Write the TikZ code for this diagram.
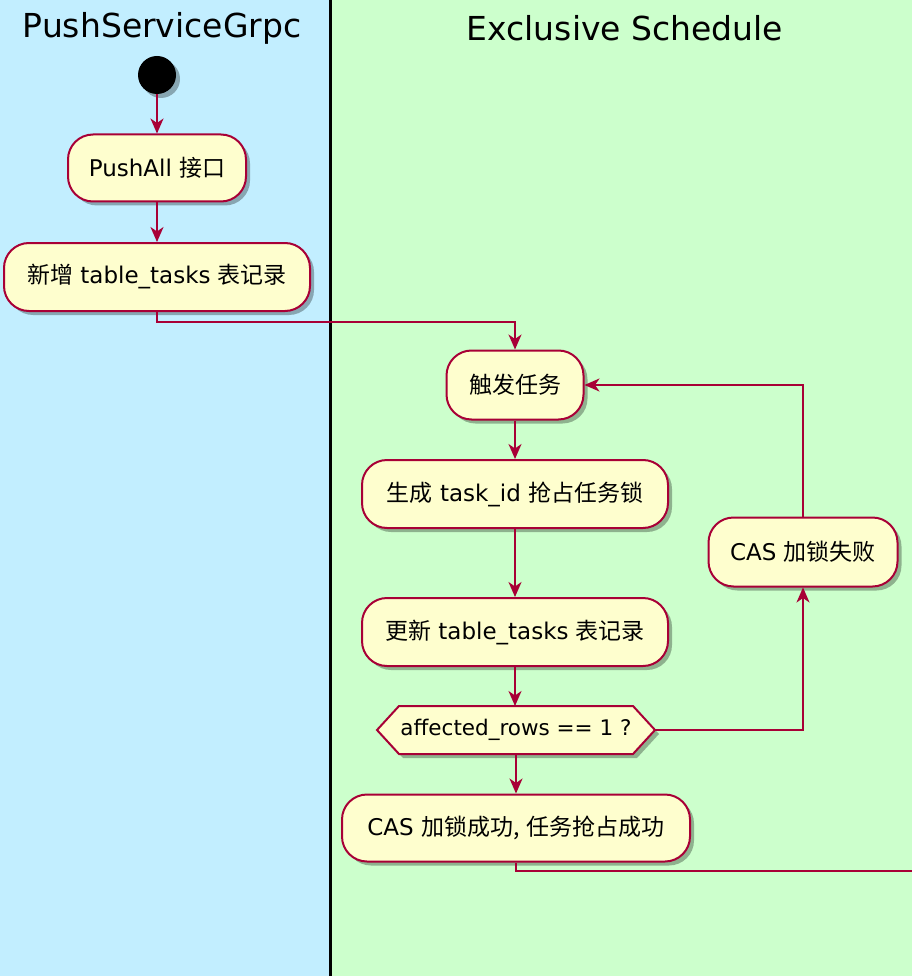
\documentclass[tikz,border=0pt]{standalone}
\usepackage{fontspec}
\setmainfont{DejaVu Sans}
\newfontfamily\cjk{Noto Sans CJK SC}
\usetikzlibrary{arrows.meta,shadows}
\definecolor{laneblue}{HTML}{C2EEFF}
\definecolor{lanegreen}{HTML}{CCFFCC}
\definecolor{umlred}{HTML}{A80036}
\definecolor{umlfill}{HTML}{FEFECE}
\pgfdeclarelayer{bg}
\pgfdeclarelayer{mid}
\pgfsetlayers{bg,mid,main}
\newcommand{\zh}[1]{{\cjk #1}}
\begin{document}
\begin{tikzpicture}[x=1pt,y=-1pt,
  myshadow/.style={drop shadow={shadow xshift=4pt,shadow yshift=-4pt,opacity=0.3,fill=black}},
  actbox/.style={rectangle,rounded corners=25pt,draw=umlred,fill=umlfill,line width=2pt,
    inner sep=0pt,font=\fontsize{23}{26}\selectfont,myshadow},
  hexbox/.style={draw=umlred,fill=umlfill,line width=2pt,myshadow},
  flow/.style={draw=umlred,line width=2pt,-{Stealth[length=15pt,width=13pt,inset=4.5pt]}},
  plainflow/.style={draw=umlred,line width=2pt},
  header/.style={font=\fontsize{33}{38}\selectfont,inner sep=0pt}]
\useasboundingbox (0,0) rectangle (912,976);
\begin{pgfonlayer}{bg}
  \fill[laneblue] (0,0) rectangle (330,976);
  \fill[lanegreen] (330,0) rectangle (912,976);
  \draw[line width=3pt,black] (330,0) -- (330,976);
\end{pgfonlayer}
\node[header] (h1) at (162,28) {PushServiceGrpc};
\node[header] (h2) at (625,28) {Exclusive Schedule};

\node[circle,fill=black,minimum size=38pt,inner sep=0pt,myshadow] (start) at (157,75) {};
\node[actbox,minimum width=178pt,minimum height=67pt] (push) at (157,168) {PushAll \zh{接口}};
\node[actbox,minimum width=306pt,minimum height=68pt] (add) at (157,277) {\zh{新增} table\_tasks \zh{表记录}};
\node[actbox,minimum width=137pt,minimum height=69pt] (trig) at (515,385) {\zh{触发任务}};
\node[actbox,minimum width=306pt,minimum height=68pt] (gen) at (515,494) {\zh{生成} task\_id \zh{抢占任务锁}};
\node[actbox,minimum width=306pt,minimum height=68pt] (upd) at (515,632) {\zh{更新} table\_tasks \zh{表记录}};
\node[inner sep=0pt,outer sep=0pt,minimum width=278pt,minimum height=48pt,
  font=\fontsize{21.5}{24}\selectfont] (dec) at (516,730) {affected\_rows == 1 ?};
\begin{pgfonlayer}{mid}
  \path[hexbox] (dec.west) -- ([xshift=22pt]dec.north west) -- ([xshift=-22pt]dec.north east)
    -- (dec.east) -- ([xshift=-22pt]dec.south east) -- ([xshift=22pt]dec.south west) -- cycle;
\end{pgfonlayer}
\node[actbox,minimum width=348pt,minimum height=67pt] (succ) at (516,828) {CAS \zh{加锁成功,} \zh{任务抢占成功}};
\node[actbox,minimum width=189pt,minimum height=69pt] (fail) at (803,552) {CAS \zh{加锁失败}};
\coordinate (out) at (912,871);

\draw[flow] (start) -- (push);
\draw[flow] (push) -- (add);
\draw[flow] (add.south) -- ++(0,10) -| (trig.north);
\draw[flow] (trig) -- (gen);
\draw[flow] (gen) -- (upd);
\draw[flow] (upd.south) -- (upd.south |- dec.north);
\draw[flow] (dec.south) -- (succ.north);
\draw[flow] (dec.east) -| (fail.south);
\draw[flow] (fail.north) |- (trig.east);
\draw[plainflow] (succ.south) |- (out);
\end{tikzpicture}
\end{document}
